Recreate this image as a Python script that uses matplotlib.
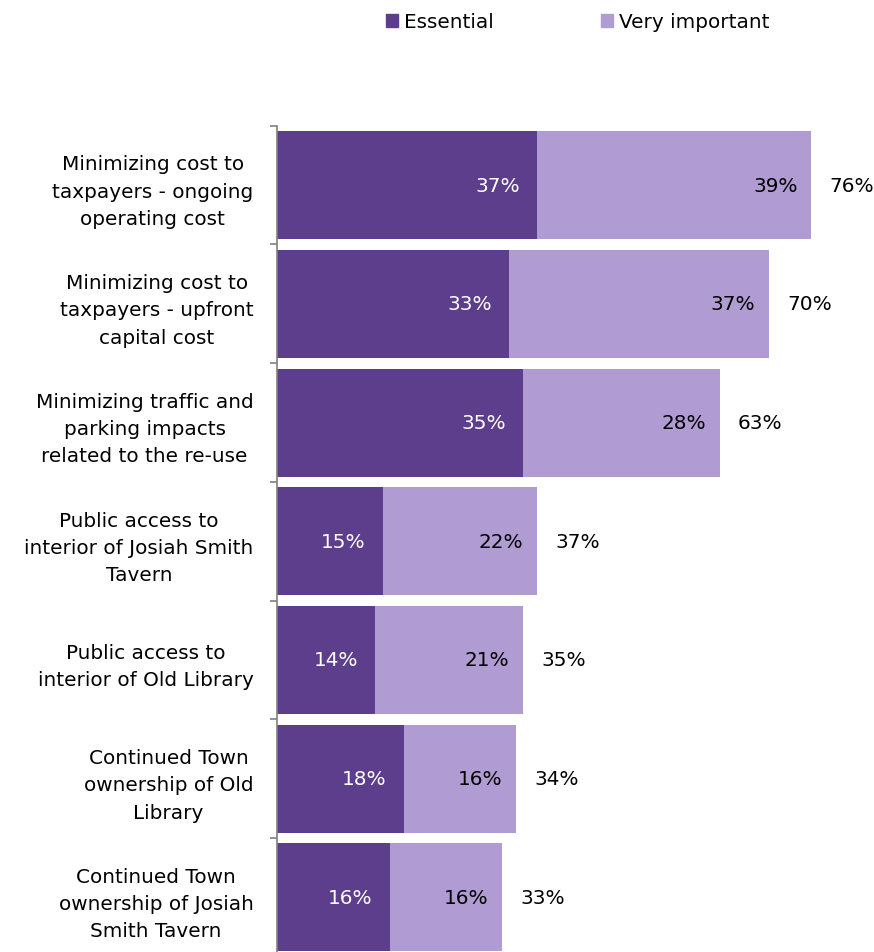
import matplotlib.pyplot as plt
from matplotlib.patches import Patch

# Data
categories = [
    "Minimizing cost to\ntaxpayers - ongoing\noperating cost",
    "Minimizing cost to\ntaxpayers - upfront\ncapital cost",
    "Minimizing traffic and\nparking impacts\nrelated to the re-use",
    "Public access to\ninterior of Josiah Smith\nTavern",
    "Public access to\ninterior of Old Library",
    "Continued Town\nownership of Old\nLibrary",
    "Continued Town\nownership of Josiah\nSmith Tavern",
]
essential = [37, 33, 35, 15, 14, 18, 16]
very_important = [39, 37, 28, 22, 21, 16, 16]
totals = [76, 70, 63, 37, 35, 34, 33]

dark = "#5d3e8c"
light = "#b19bd3"
fs = 14.4

fig = plt.figure(figsize=(8.74, 9.53), dpi=100)
ax = fig.add_axes([0.317, -0.005, 0.683, 0.872])

y = list(range(len(categories)))
ax.barh(y, essential, height=0.91, color=dark)
ax.barh(y, very_important, left=essential, height=0.91, color=light)

for i in y:
    e = essential[i]
    v = very_important[i]
    ax.annotate(f"{e}%", (e, i), xytext=(-12, 0), textcoords="offset points",
                ha="right", va="center", color="white", fontsize=fs)
    ax.annotate(f"{v}%", (e + v, i), xytext=(-10, 0), textcoords="offset points",
                ha="right", va="center", color="black", fontsize=fs)
    ax.annotate(f"{totals[i]}%", (e + v, i), xytext=(13, 0), textcoords="offset points",
                ha="left", va="center", color="black", fontsize=fs)

ax.set_xlim(0, 0.683 * 874 / 7.03)
ax.set_ylim(len(categories) - 0.5, -0.5)

ax.set_yticks(y)
ax.set_yticklabels(categories, fontsize=fs, ha="right", multialignment="center",
                   linespacing=1.55)
ax.tick_params(axis="y", which="major", length=0, pad=17)
ax.set_yticks([i - 0.5 for i in range(len(categories) + 1)], minor=True)
ax.tick_params(axis="y", which="minor", length=5, color="#808080", width=1.2)
ax.set_xticks([])

for s in ["top", "right", "bottom"]:
    ax.spines[s].set_visible(False)
ax.spines["left"].set_color("#808080")
ax.spines["left"].set_linewidth(1.2)

handles = [Patch(color=dark, label="Essential"), Patch(color=light, label="Very important")]
fig.legend(handles=handles, loc="center", bbox_to_anchor=(0.661, 0.976), ncol=2,
           frameon=False, fontsize=fs, handlelength=0.6, handleheight=0.6,
           handletextpad=0.3, columnspacing=5.4)

fig.savefig("out.png", dpi=100)
